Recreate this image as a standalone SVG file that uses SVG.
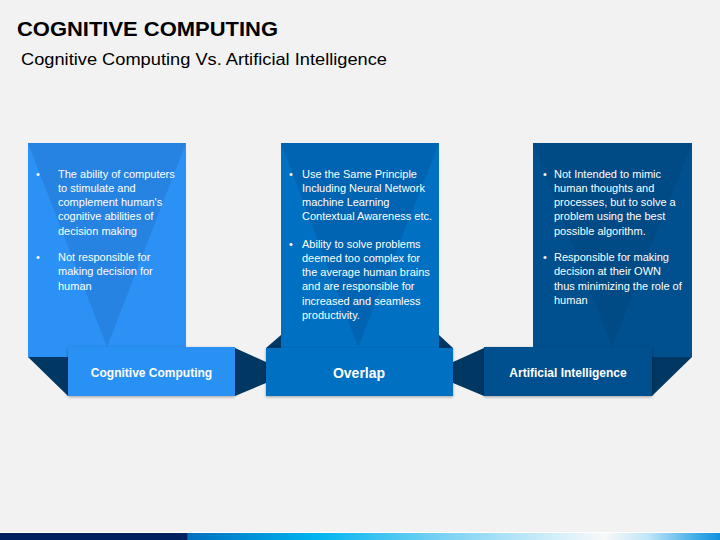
<svg xmlns="http://www.w3.org/2000/svg" width="720" height="540" viewBox="0 0 720 540">
<defs>
<style>
.ttl{font-family:"Liberation Sans",Arial,sans-serif;font-weight:bold;font-size:21px;fill:#000}
.sub{font-family:"Liberation Sans",Arial,sans-serif;font-size:17px;fill:#000}
.body{font-family:"Liberation Sans",Arial,sans-serif;font-size:11px;fill:#fff}
.lbl{font-family:"Liberation Sans",Arial,sans-serif;font-weight:bold;font-size:12px;fill:#fff;text-anchor:middle}
.lblb{font-family:"Liberation Sans",Arial,sans-serif;font-weight:bold;font-size:14px;fill:#fff;text-anchor:middle}
.fold{fill:#003763}
</style>
<filter id="sh" x="-10%" y="-20%" width="120%" height="150%">
<feDropShadow dx="0" dy="1" stdDeviation="1.5" flood-color="#000" flood-opacity="0.35"/>
</filter>
<linearGradient id="bar" x1="0" y1="0" x2="720" y2="0" gradientUnits="userSpaceOnUse">
<stop offset="0" stop-color="#002060"/>
<stop offset="0.259" stop-color="#002060"/>
<stop offset="0.261" stop-color="#0070C0"/>
<stop offset="0.44" stop-color="#00B4F0"/>
<stop offset="0.62" stop-color="#7DD3F3"/>
<stop offset="0.78" stop-color="#D8F0FA"/>
<stop offset="0.84" stop-color="#F8F8F8"/>
<stop offset="0.9" stop-color="#C0E6F8"/>
<stop offset="0.97" stop-color="#3AAAE6"/>
<stop offset="1" stop-color="#1090E0"/>
</linearGradient>
</defs>
<rect x="0" y="0" width="720" height="540" fill="#F2F2F2"/>
<text class="ttl" x="17" y="36" textLength="261" lengthAdjust="spacingAndGlyphs">COGNITIVE COMPUTING</text>
<text class="sub" x="21" y="65" textLength="366" lengthAdjust="spacingAndGlyphs">Cognitive Computing Vs. Artificial Intelligence</text>

<g id="panel-cognitive">
<rect x="28" y="143" width="158" height="214" fill="#2B91F4"/>
<polygon points="28,143 186,143 107,347" fill="#2683E2"/>
<text class="body"><tspan x="36" y="177.5">•</tspan><tspan x="58" y="177.5">The ability of computers</tspan><tspan x="58" y="191.8">to stimulate and</tspan><tspan x="58" y="206">complement human's</tspan><tspan x="58" y="220.3">cognitive abilities of</tspan><tspan x="58" y="234.5">decision making</tspan></text>
<text class="body"><tspan x="36" y="261">•</tspan><tspan x="58" y="261">Not responsible for</tspan><tspan x="58" y="275.3">making decision for</tspan><tspan x="58" y="289.7">human</tspan></text>
</g>

<g id="panel-overlap">
<rect x="281" y="143" width="158" height="205" fill="#0070C2"/>
<polygon points="281,143 439,143 358,347" fill="#0064B2"/>
<text class="body"><tspan x="289" y="177.5">•</tspan><tspan x="302" y="177.5">Use the Same Principle</tspan><tspan x="302" y="191.8">Including Neural Network</tspan><tspan x="302" y="206">machine Learning</tspan><tspan x="302" y="220.3">Contextual Awareness etc.</tspan></text>
<text class="body"><tspan x="289" y="247.5">•</tspan><tspan x="302" y="247.5">Ability to solve problems</tspan><tspan x="302" y="261.8">deemed too complex for</tspan><tspan x="302" y="276">the average human brains</tspan><tspan x="302" y="290.3">and are responsible for</tspan><tspan x="302" y="304.5">increased and seamless</tspan><tspan x="302" y="318.8">productivity.</tspan></text>
</g>

<g id="panel-ai">
<rect x="533" y="143" width="159" height="214" fill="#00508F"/>
<polygon points="533,143 692,143 612,347" fill="#004A85"/>
<text class="body"><tspan x="543" y="177.5">•</tspan><tspan x="554" y="177.5">Not Intended to mimic</tspan><tspan x="554" y="191.8">human thoughts and</tspan><tspan x="554" y="206">processes, but to solve a</tspan><tspan x="554" y="220.3">problem using the best</tspan><tspan x="554" y="234.5">possible algorithm.</tspan></text>
<text class="body"><tspan x="543" y="261">•</tspan><tspan x="554" y="261">Responsible for making</tspan><tspan x="554" y="275.3">decision at their OWN</tspan><tspan x="554" y="289.7">thus minimizing the role of</tspan><tspan x="554" y="304">human</tspan></text>
</g>

<g id="connectors">
<polygon class="fold" points="28,357 68,357 68,396"/>
<polygon class="fold" points="281,335 266,348 281,348"/>
<polygon class="fold" points="439,335 453,348 439,348"/>
<polygon class="fold" points="652,357 692,357 652,396"/>
<polygon class="fold" points="235,348 266,362 266,383 235,396"/>
<polygon class="fold" points="484,348 453,362 453,383 484,396"/>
</g>

<g id="label-cognitive">
<rect x="68" y="347" width="167" height="49" fill="#2B91F4" filter="url(#sh)"/>
<text class="lbl" x="151.5" y="377">Cognitive Computing</text>
</g>
<g id="label-overlap">
<rect x="266" y="348" width="187" height="48" fill="#0070C2" filter="url(#sh)"/>
<text class="lblb" x="359" y="378">Overlap</text>
</g>
<g id="label-ai">
<rect x="484" y="347" width="168" height="49" fill="#00508F" filter="url(#sh)"/>
<text class="lbl" x="568" y="377">Artificial Intelligence</text>
</g>

<rect x="0" y="532" width="720" height="1" fill="#FFFFFF"/>
<rect x="0" y="533" width="720" height="7" fill="url(#bar)"/>
</svg>
